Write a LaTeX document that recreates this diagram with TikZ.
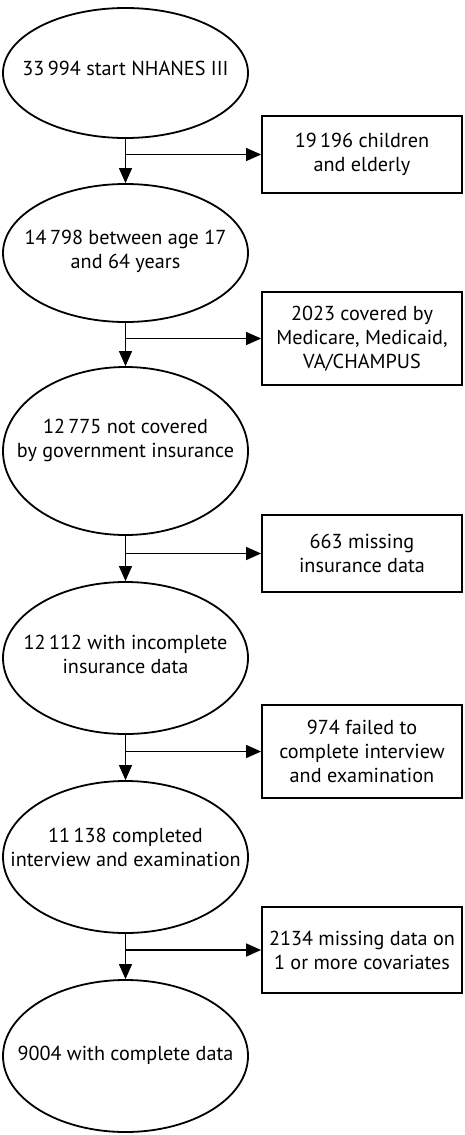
\documentclass[tikz,border=0pt]{standalone}
\usepackage{fontspec}
\setmainfont{PT Sans}
\usetikzlibrary{shapes.geometric,arrows.meta}
\tikzset{
  ell/.style={draw, line width=1.8pt, ellipse, minimum width=245pt, inner sep=0pt},
  txt/.style={align=center, font=\fontsize{20.2}{24}\selectfont, inner sep=0pt},
  boxn/.style={draw, line width=1.8pt, minimum width=200pt, inner sep=0pt, align=center, font=\fontsize{20.2}{24}\selectfont},
  arr/.style={line width=1.3pt, -{Triangle[length=15pt,width=13pt]}}
}
\begin{document}
\begin{tikzpicture}[x=1pt,y=-1pt]
\useasboundingbox (0,0) rectangle (465,1135);
% ellipses
\node[ell, minimum height=130pt] (e1) at (125.5,73) {};
\node[ell, minimum height=138pt] (e2) at (125.5,253) {};
\node[ell, minimum height=168pt] (e3) at (125.5,451) {};
\node[ell, minimum height=152pt] (e4) at (125.5,658) {};
\node[ell, minimum height=152pt] (e5) at (125.5,857) {};
\node[ell, minimum height=152pt] (e6) at (125.5,1056) {};
% ellipse texts
\node[txt] (t1) at (125.5,68) {33\,994 start NHANES III};
\node[txt] (t2) at (125.5,251) {14\,798 between age 17\\and 64 years};
\node[txt] (t3) at (125.5,440) {12\,775 not covered\\by government insurance};
\node[txt] (t4) at (125.5,654.5) {12\,112 with incomplete\\insurance data};
\node[txt] (t5) at (125.5,847) {11\,138 completed\\interview and examination};
\node[txt] (t6) at (125.5,1055) {9004 with complete data};
% boxes
\node[boxn, minimum height=77pt] (b1) at (362,154.5) {19\,196 children\\and elderly};
\node[boxn, minimum height=93pt] (b2) at (362,338.5) {2023 covered by\\Medicare, Medicaid,\\VA/CHAMPUS};
\node[boxn, minimum height=77pt] (b3) at (362,553.5) {663 missing\\insurance data};
\node[boxn, minimum height=93pt] (b4) at (362,751.5) {974 failed to\\complete interview\\and examination};
\node[boxn, minimum height=86pt] (b5) at (362,950) {2134 missing data on\\1 or more covariates};
% connectors
\draw[arr] (e1.south) -- (e2.north);
\draw[arr] (e1.south |- b1.west) -- (b1.west);
\draw[arr] (e2.south) -- (e3.north);
\draw[arr] (e2.south |- b2.west) -- (b2.west);
\draw[arr] (e3.south) -- (e4.north);
\draw[arr] (e3.south |- b3.west) -- (b3.west);
\draw[arr] (e4.south) -- (e5.north);
\draw[arr] (e4.south |- b4.west) -- (b4.west);
\draw[arr] (e5.south) -- (e6.north);
\draw[arr] (e5.south |- b5.west) -- (b5.west);
\end{tikzpicture}
\end{document}
